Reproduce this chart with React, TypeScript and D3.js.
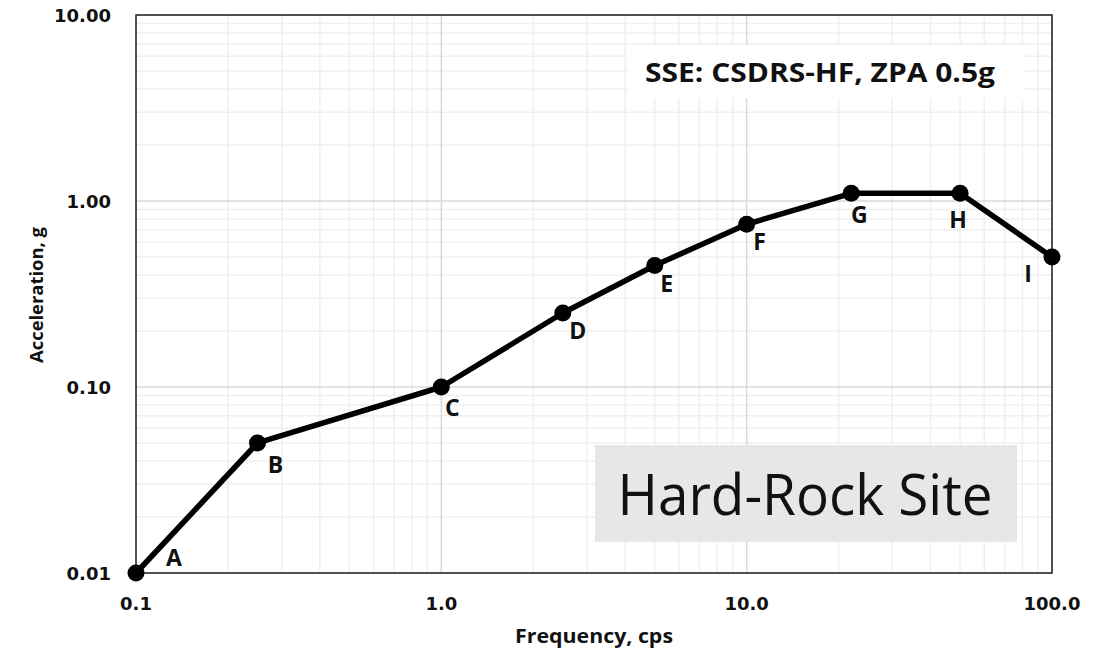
import React from "react";
import * as d3 from "d3";

const labels = ["A", "B", "C", "D", "E", "F", "G", "H", "I"];
const freqs = [0.1, 0.25, 1.0, 2.5, 5.0, 10.0, 22.0, 50.0, 100.0];
const accels = [0.01, 0.05, 0.1, 0.25, 0.45, 0.75, 1.1, 1.1, 0.5];
const labelOffsets: [number, number][] = [
  [38, -7], [18, 30], [11, 29], [15, 26], [12, 26], [13, 26], [8, 30], [-2, 35], [-24, 25],
];
const xTicks = [0.1, 1, 10, 100];
const yTicks = [0.01, 0.1, 1, 10];

const W = 1096, H = 652;
const M = { left: 136, right: 1052, top: 15, bottom: 573 };

export default function App() {
  const x = d3.scaleLog().domain([0.1, 100]).range([M.left, M.right]);
  const y = d3.scaleLog().domain([0.01, 10]).range([M.bottom, M.top]);
  const minorX: number[] = [];
  for (let d = 0.1; d < 100; d *= 10) for (let k = 2; k <= 9; k++) minorX.push(+(d * k).toPrecision(3));
  const minorY: number[] = [];
  for (let d = 0.01; d < 10; d *= 10) for (let k = 2; k <= 9; k++) minorY.push(+(d * k).toPrecision(3));
  const pts = freqs.map((f, i) => [x(f), y(accels[i])] as [number, number]);
  const line = d3.line()(pts) || "";
  const font = "'Open Sans', 'Noto Sans', sans-serif";
  const tickFont = "'DejaVu Sans', Verdana, sans-serif";
  return (
    <svg width={W} height={H} style={{ position: "absolute", left: 0, top: 0, background: "#fff" }} fontFamily={font}>
      {minorX.map((v, i) => (
        <line key={"mx" + i} x1={x(v)} x2={x(v)} y1={M.top} y2={M.bottom} stroke="#efefef" strokeWidth={1.5} />
      ))}
      {minorY.map((v, i) => (
        <line key={"my" + i} y1={y(v)} y2={y(v)} x1={M.left} x2={M.right} stroke="#efefef" strokeWidth={1.5} />
      ))}
      {xTicks.map((v, i) => (
        <line key={"gx" + i} x1={x(v)} x2={x(v)} y1={M.top} y2={M.bottom} stroke="#d9d9d9" strokeWidth={1.5} />
      ))}
      {yTicks.map((v, i) => (
        <line key={"gy" + i} y1={y(v)} y2={y(v)} x1={M.left} x2={M.right} stroke="#d9d9d9" strokeWidth={1.5} />
      ))}
      <rect x={M.left} y={M.top} width={M.right - M.left} height={M.bottom - M.top} fill="none" stroke="#222" strokeWidth={1.5} />
      <rect x={628} y={45} width={397} height={53} fill="#fff" />
      <text x={820} y={82} textAnchor="middle" fontWeight="bold" fontSize={26} fill="#111" textLength={350} lengthAdjust="spacingAndGlyphs">SSE: CSDRS-HF, ZPA 0.5g</text>
      <rect x={595} y={445} width={422} height={97} fill="#e7e7e7" />
      <text x={805} y={515} textAnchor="middle" fontSize={56} fill="#111" textLength={375} lengthAdjust="spacingAndGlyphs">Hard-Rock Site</text>
      <path d={line} fill="none" stroke="#000" strokeWidth={5.5} strokeLinejoin="round" />
      {pts.map((p, i) => (
        <circle key={"c" + i} cx={p[0]} cy={p[1]} r={8.5} fill="#000" />
      ))}
      {pts.map((p, i) => (
        <text key={"l" + i} x={p[0] + labelOffsets[i][0]} y={p[1] + labelOffsets[i][1]} textAnchor="middle" fontWeight="bold" fontSize={23} fill="#111">
          {labels[i]}
        </text>
      ))}
      {yTicks.map((v, i) => (
        <text key={"yt" + i} x={111} y={y(v) + 7} textAnchor="end" fontWeight="bold" fontSize={18} fill="#111" fontFamily={tickFont}>
          {v.toFixed(2)}
        </text>
      ))}
      {xTicks.map((v, i) => (
        <text key={"xt" + i} x={x(v)} y={610} textAnchor="middle" fontWeight="bold" fontSize={18} fill="#111" fontFamily={tickFont}>
          {v.toFixed(1)}
        </text>
      ))}
      <text x={594} y={643} textAnchor="middle" fontWeight="bold" fontSize={19} fill="#111" textLength={158} lengthAdjust="spacingAndGlyphs">Frequency, cps</text>
      <text transform={`translate(43,295) rotate(-90)`} textAnchor="middle" fontWeight="bold" fontSize={17} fill="#111" textLength={136} lengthAdjust="spacingAndGlyphs">Acceleration, g</text>
    </svg>
  );
}
